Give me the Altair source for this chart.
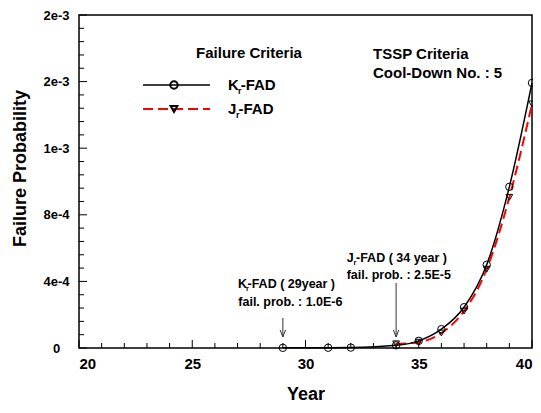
import altair as alt
import pandas as pd

# ---- data ----
years_k = [29, 31, 32, 34, 35, 36, 37, 38, 39, 40]
prob_k = [1.0e-6, 1.5e-6, 2.5e-6, 1.6e-5, 4.3e-5, 1.13e-4, 2.45e-4, 5.0e-4, 9.68e-4, 1.592e-3]
years_j = [34, 35, 36, 37, 38, 39, 40]
prob_j = [2.5e-5, 3.5e-5, 9.0e-5, 2.22e-4, 4.73e-4, 9.05e-4, 1.466e-3]

x_ticks = [20, 25, 30, 35, 40]
x_minor = [21, 22, 23, 24, 26, 27, 28, 29, 31, 32, 33, 34, 36, 37, 38, 39]
y_ticks = [0, 0.0004, 0.0008, 0.0012, 0.0016, 0.002]
y_tick_labels = ["0", "4e-4", "8e-4", "1e-3", "2e-3", "2e-3"]
y_minor = [0.00008, 0.00016, 0.00024, 0.00032, 0.00048, 0.00056, 0.00064, 0.00072,
           0.00088, 0.00096, 0.00104, 0.00112, 0.00128, 0.00136, 0.00144, 0.00152,
           0.00168, 0.00176, 0.00184, 0.00192]
arrow_years = [29, 34]

W, H = 453, 333
TOP = 7
FONT = "Liberation Sans"

x_scale = alt.Scale(domain=[20, 40], nice=False, zero=False)
y_scale = alt.Scale(domain=[0, 0.002], nice=False)

label_expr = "[" + ",".join("'%s'" % s for s in y_tick_labels) + "][indexof([" + \
    ",".join(repr(v) for v in y_ticks) + "], datum.value)]"

one = pd.DataFrame({"a": [0]})


def X(field="year"):
    return alt.X(f"{field}:Q", scale=x_scale, title="Year",
                 axis=alt.Axis(values=x_ticks, format="d"))


def Y(field="prob"):
    return alt.Y(f"{field}:Q", scale=y_scale, title="Failure Probability",
                 axis=alt.Axis(values=y_ticks, labelExpr=label_expr))


def py(page_y):
    # page y (reference pixels) -> plot y
    return page_y - 8 - TOP


def txt(s, x, y, size=15, align="left", baseline="middle"):
    return alt.Chart(one).mark_text(
        text=s, font=FONT, fontSize=size, fontWeight="bold", align=align,
        baseline=baseline, color="black"
    ).encode(x=alt.value(x), y=alt.value(py(y)))


k_df = pd.DataFrame({"year": years_k, "prob": prob_k})
j_df = pd.DataFrame({"year": years_j, "prob": prob_j})

j_line = alt.Chart(j_df).mark_line(
    color="#ff0000", strokeWidth=2, strokeDash=[10, 5], interpolate="monotone"
).encode(x=X(), y=Y())
j_pts = alt.Chart(j_df).mark_point(
    shape="triangle-down", size=45, filled=False, color="black", strokeWidth=1, opacity=1
).encode(x=X(), y=Y())
k_line = alt.Chart(k_df).mark_line(
    color="black", strokeWidth=1.5, interpolate="monotone"
).encode(x=X(), y=Y())
k_pts = alt.Chart(k_df).mark_point(
    shape="circle", size=55, filled=False, color="black", strokeWidth=1, opacity=1
).encode(x=X(), y=Y())

# inward ticks
xt_major = alt.Chart(pd.DataFrame({"year": x_ticks})).mark_rule(color="black", strokeWidth=1).encode(
    x=X(), y=alt.value(H), y2=alt.value(H - 8))
xt_minor = alt.Chart(pd.DataFrame({"year": x_minor})).mark_rule(color="black", strokeWidth=1).encode(
    x=X(), y=alt.value(H), y2=alt.value(H - 5))
yt_major = alt.Chart(pd.DataFrame({"prob": y_ticks})).mark_rule(color="black", strokeWidth=1).encode(
    y=Y(), x=alt.value(0), x2=alt.value(8))
yt_minor = alt.Chart(pd.DataFrame({"prob": y_minor})).mark_rule(color="black", strokeWidth=1).encode(
    y=Y(), x=alt.value(0), x2=alt.value(5))

# legend
leg_k_line = alt.Chart(one).mark_rule(color="black", strokeWidth=1.5).encode(
    x=alt.value(64), x2=alt.value(131), y=alt.value(py(85)))
leg_k_pt = alt.Chart(one).mark_point(shape="circle", size=55, filled=False, color="black", opacity=1).encode(
    x=alt.value(95), y=alt.value(py(85)))
leg_j_line = alt.Chart(one).mark_rule(color="#ff0000", strokeWidth=2, strokeDash=[10, 5]).encode(
    x=alt.value(64), x2=alt.value(131), y=alt.value(py(109)))
leg_j_pt = alt.Chart(one).mark_point(shape="triangle-down", size=45, filled=False, color="black", opacity=1).encode(
    x=alt.value(95), y=alt.value(py(109)))

texts = [
    txt("Failure Criteria", 170, 53, align="center"),
    txt("TSSP Criteria", 294, 54),
    txt("Cool-Down No. : 5", 294, 73),
    # legend labels with subscripts
    txt("K", 149, 90.4, baseline="alphabetic"),
    txt("r", 159, 94, size=9, baseline="alphabetic"),
    txt("-FAD", 161.7, 90.4, baseline="alphabetic"),
    txt("J", 149, 114.4, baseline="alphabetic"),
    txt("r", 157, 118, size=9, baseline="alphabetic"),
    txt("-FAD", 159.5, 114.4, baseline="alphabetic"),
    # annotations
    txt("K", 159, 287.5, size=12.5, baseline="alphabetic"),
    txt("r", 167, 290.5, size=7.5, baseline="alphabetic"),
    txt("-FAD ( 29year )", 168.5, 287.5, size=12.5, baseline="alphabetic"),
    txt("fail. prob. : 1.0E-6", 159.3, 302, size=12.5),
    txt("J", 267.7, 261.5, size=12.5, baseline="alphabetic"),
    txt("r", 274.5, 264.5, size=7.5, baseline="alphabetic"),
    txt("-FAD ( 34 year )", 277, 261.5, size=12.5, baseline="alphabetic"),
    txt("fail. prob. : 2.5E-5", 267.7, 275, size=12.5),
]

arrow_start = [318, 283]
arrow_tip = 337
arrows = []
for yr, y0 in zip(arrow_years, arrow_start):
    arrows.append(alt.Chart(one).mark_rule(color="#333333", strokeWidth=1).encode(
        x=alt.datum(yr, scale=x_scale), y=alt.value(py(y0)), y2=alt.value(py(arrow_tip))))
    arrows.append(alt.Chart(one).mark_point(
        shape="M-1,-2.6L0,0L1,-2.6", size=30, filled=False, color="#333333", strokeWidth=1, opacity=1
    ).encode(x=alt.datum(yr, scale=x_scale), y=alt.value(py(arrow_tip))))

chart = alt.layer(
    xt_major, xt_minor, yt_major, yt_minor,
    j_line, j_pts, k_line, k_pts,
    leg_k_line, leg_k_pt, leg_j_line, leg_j_pt,
    *arrows, *texts
).properties(
    width=W, height=H,
    autosize=alt.AutoSizeParams(type="none"),
    padding={"left": 71, "top": TOP, "right": 1, "bottom": 57},
).configure_view(
    stroke="black", strokeWidth=1.5
).configure_axis(
    grid=False, domain=False, ticks=False, tickSize=0,
    labelFont=FONT, labelFontWeight="bold", labelColor="black",
    titleFont=FONT, titleFontWeight="bold", titleColor="black", titleFontSize=18,
).configure_axisX(
    labelFontSize=15, labelPadding=8, labelBaseline="top",
    titleY=46, titleBaseline="middle", titleAlign="center", titleX=W / 2,
).configure_axisY(
    labelFontSize=13, labelPadding=23, labelAlign="center", labelBaseline="middle",
    titleX=-59, titleY=153, titleAlign="center", titleBaseline="middle", titleAngle=-90,
)

chart.save("out.html", embed_options={"renderer": "svg", "actions": False})
